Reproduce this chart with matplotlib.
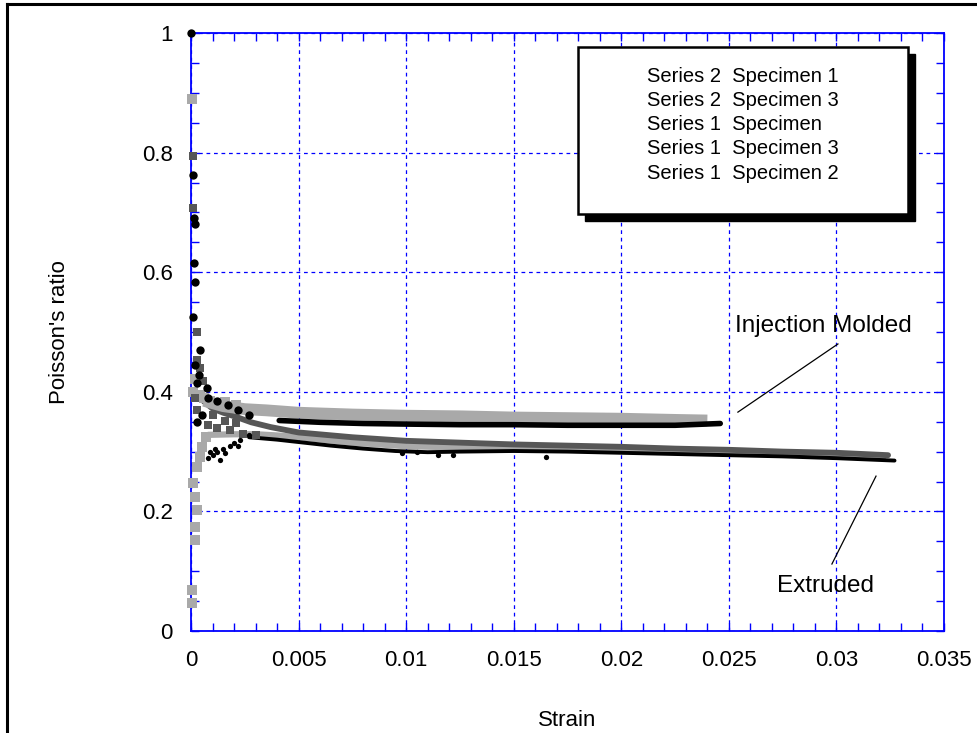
import matplotlib
matplotlib.use("Agg")
import matplotlib.pyplot as plt
from matplotlib.ticker import MultipleLocator
from matplotlib.patches import Rectangle
from matplotlib.lines import Line2D

plt.rcParams['font.family'] = ['Liberation Sans', 'DejaVu Sans']

# ---- data ----
legend_labels = ["Series 2  Specimen 1", "Series 2  Specimen 3", "Series 1  Specimen",
                 "Series 1  Specimen 3", "Series 1  Specimen 2"]

# Series 2 Specimen 1 (injection molded, light grey squares)
s2sp1_early_x = [0.00005, 0.0002, 0.0001, 0.0004, 0.0006, 0.0009, 0.0012, 0.0016, 0.0021]
s2sp1_early_y = [0.89, 0.421, 0.400, 0.395, 0.390, 0.385, 0.380, 0.383, 0.378]
s2sp1_x = [0.0006, 0.0015, 0.0025, 0.0035, 0.005, 0.0075, 0.01, 0.0125, 0.015,
           0.0175, 0.02, 0.0225, 0.0240]
s2sp1_y = [0.385, 0.376, 0.371, 0.369, 0.365, 0.362, 0.360, 0.359, 0.357,
           0.356, 0.355, 0.353, 0.352]

# Series 2 Specimen 3 (injection molded, black circles)
s2sp3_early_x = [0.0, 0.0001, 0.00012, 0.0002, 0.00015, 0.0002, 0.0001, 0.0004,
                 0.0002, 0.00037, 0.0003, 0.00074, 0.0008, 0.0003, 0.0005,
                 0.0012, 0.0017, 0.0022, 0.0027]
s2sp3_early_y = [1.0, 0.762, 0.690, 0.680, 0.615, 0.584, 0.525, 0.470,
                 0.445, 0.428, 0.415, 0.406, 0.390, 0.350, 0.362,
                 0.384, 0.378, 0.370, 0.362]
s2sp3_x = [0.0041, 0.006, 0.008, 0.01, 0.0125, 0.015, 0.0175, 0.02, 0.0225, 0.0246]
s2sp3_y = [0.352, 0.349, 0.347, 0.346, 0.345, 0.345, 0.344, 0.344, 0.344, 0.347]

# Series 1 Specimen (extruded, dark grey squares)
s1sp_early_x = [0.0001, 0.0001, 0.00028, 0.0003, 0.00056, 0.0004, 0.0002, 0.0003,
                0.0008, 0.0012, 0.0018, 0.0024, 0.0030, 0.0010, 0.0016, 0.0021]
s1sp_early_y = [0.794, 0.707, 0.500, 0.453, 0.418, 0.440, 0.390, 0.370,
                0.345, 0.340, 0.336, 0.330, 0.328, 0.362, 0.352, 0.347]
s1sp_x = [0.0004, 0.001, 0.0015, 0.0021, 0.0028, 0.0037, 0.005, 0.0075, 0.01,
          0.0125, 0.015, 0.0175, 0.02, 0.0225, 0.025, 0.0275, 0.03, 0.0324]
s1sp_y = [0.390, 0.372, 0.365, 0.358, 0.349, 0.341, 0.332, 0.324, 0.318,
          0.315, 0.312, 0.310, 0.308, 0.305, 0.303, 0.300, 0.298, 0.294]

# Series 1 Specimen 3 (extruded, light grey squares)
s1sp3_early_x = [0.00003, 0.00003, 0.0002, 0.0002, 0.0003, 0.0002, 0.0001, 0.0003,
                 0.0004, 0.0005, 0.0007]
s1sp3_early_y = [0.047, 0.069, 0.152, 0.174, 0.202, 0.224, 0.247, 0.275,
                 0.291, 0.308, 0.324]
s1sp3_x = [0.0008, 0.002, 0.003, 0.004, 0.005, 0.0075, 0.01, 0.0125, 0.015,
           0.0175, 0.02, 0.0225, 0.025, 0.0275, 0.03, 0.0322]
s1sp3_y = [0.328, 0.329, 0.329, 0.327, 0.324, 0.315, 0.309, 0.307, 0.305,
           0.303, 0.302, 0.300, 0.298, 0.296, 0.294, 0.292]

# Series 1 Specimen 2 (extruded, small black dots)
s1sp2_early_x = [0.0008, 0.001, 0.00135, 0.0012, 0.0015, 0.0018, 0.002, 0.0023,
                 0.0027, 0.0009, 0.0011, 0.0016, 0.0022, 0.0098, 0.0105, 0.0115,
                 0.0122, 0.0165]
s1sp2_early_y = [0.289, 0.295, 0.286, 0.300, 0.305, 0.310, 0.315, 0.320,
                 0.328, 0.300, 0.305, 0.298, 0.310, 0.297, 0.299, 0.295,
                 0.294, 0.291]
s1sp2_x = [0.0027, 0.004, 0.005, 0.0065, 0.008, 0.0095, 0.011, 0.0125, 0.015,
           0.0175, 0.02, 0.0225, 0.025, 0.0275, 0.03, 0.0327]
s1sp2_y = [0.324, 0.320, 0.316, 0.310, 0.305, 0.301, 0.299, 0.300, 0.301,
           0.300, 0.298, 0.296, 0.294, 0.292, 0.289, 0.285]

xticks = [0, 0.005, 0.01, 0.015, 0.02, 0.025, 0.03, 0.035]
xtick_labels = ["0", "0.005", "0.01", "0.015", "0.02", "0.025", "0.03", "0.035"]
yticks = [0, 0.2, 0.4, 0.6, 0.8, 1.0]
ytick_labels = ["0", "0.2", "0.4", "0.6", "0.8", "1"]

light = "#a9a9a9"
dark = "#575757"
blue = "#0000ff"

W, H = 978, 733
fig = plt.figure(figsize=(W / 100, H / 100), dpi=100)
ax = fig.add_axes([191 / W, 1 - 631 / H, (944 - 191) / W, (631 - 33) / H])

# bands (drawn as thick lines) then the scattered early points
ax.plot(s1sp3_x, s1sp3_y, color=light, lw=4.5, solid_capstyle="round", zorder=3)
ax.plot(s1sp_x, s1sp_y, color=dark, lw=4.2, solid_capstyle="round", zorder=3)
ax.plot(s1sp2_x, s1sp2_y, color="black", lw=2.8, solid_capstyle="round", zorder=4)
ax.plot(s2sp1_x, s2sp1_y, color=light, lw=8.5, solid_capstyle="butt", zorder=3)
ax.plot(s2sp3_x, s2sp3_y, color="black", lw=4, solid_capstyle="round", zorder=4)

ax.plot(s2sp1_early_x, s2sp1_early_y, 's', color=light, ms=6.5, mew=0, clip_on=False, zorder=5)
ax.plot(s1sp3_early_x, s1sp3_early_y, 's', color=light, ms=6.5, mew=0, clip_on=False, zorder=5)
ax.plot(s1sp_early_x, s1sp_early_y, 's', color=dark, ms=6, mew=0, clip_on=False, zorder=5)
ax.plot(s2sp3_early_x, s2sp3_early_y, 'o', color="black", ms=6, mew=0, clip_on=False, zorder=6)
ax.plot(s1sp2_early_x, s1sp2_early_y, 'o', color="black", ms=3.8, mew=0, clip_on=False, zorder=6)

ax.set_xlim(0, 0.035)
ax.set_ylim(0, 1)
ax.set_xticks(xticks)
ax.set_xticklabels(xtick_labels)
ax.set_yticks(yticks)
ax.set_yticklabels(ytick_labels)
ax.xaxis.set_minor_locator(MultipleLocator(0.001))
ax.yaxis.set_minor_locator(MultipleLocator(0.05))
ax.tick_params(which="both", direction="in", top=True, right=True, color=blue,
               length=6, width=1)
ax.tick_params(axis="x", labelsize=16, pad=14)
ax.tick_params(axis="y", labelsize=16, pad=13)
for s in ax.spines.values():
    s.set_color(blue)
    s.set_linewidth(1.3)
ax.grid(True, which="major", color=blue, linestyle=(0, (3, 3)), linewidth=0.9)
ax.set_axisbelow(True)

ax.set_xlabel("Strain", fontsize=16, labelpad=28)
ax.set_ylabel("Poisson's ratio", fontsize=16, labelpad=52)

# annotations
ax.text(0.02529, 0.5, "Injection Molded", fontsize=17.5, va="baseline", ha="left")
ax.plot([0.02542, 0.03007], [0.366, 0.480], color="black", lw=0.9)
ax.text(0.02724, 0.065, "Extruded", fontsize=17.5, va="baseline", ha="left")
ax.plot([0.03184, 0.02979], [0.259, 0.112], color="black", lw=0.9)

# legend box with drop shadow (text only, as in the original)
lx0, ly0, lx1, ly1 = 578, 47, 908, 214
fig.add_artist(Rectangle(((lx0 + 7) / W, 1 - (ly1 + 7) / H), (lx1 - lx0) / W,
                         (ly1 - ly0) / H, transform=fig.transFigure,
                         facecolor="black", edgecolor="black", zorder=10))
fig.add_artist(Rectangle((lx0 / W, 1 - ly1 / H), (lx1 - lx0) / W, (ly1 - ly0) / H,
                         transform=fig.transFigure, facecolor="white",
                         edgecolor="black", lw=1.8, zorder=11))
for i, lab in enumerate(legend_labels):
    fig.text(647 / W, 1 - (76 + 24.3 * i) / H, lab, fontsize=14.5,
             va="center", ha="left", zorder=12)

# outer frame of the original figure
fig.add_artist(Line2D([7 / W, 7 / W], [0, 1 - 4 / H], color="black", lw=2.2,
                      transform=fig.transFigure))
fig.add_artist(Line2D([7 / W, 1], [1 - 4 / H, 1 - 4 / H], color="black", lw=2.2,
                      transform=fig.transFigure))

fig.savefig("out.png", dpi=100)
